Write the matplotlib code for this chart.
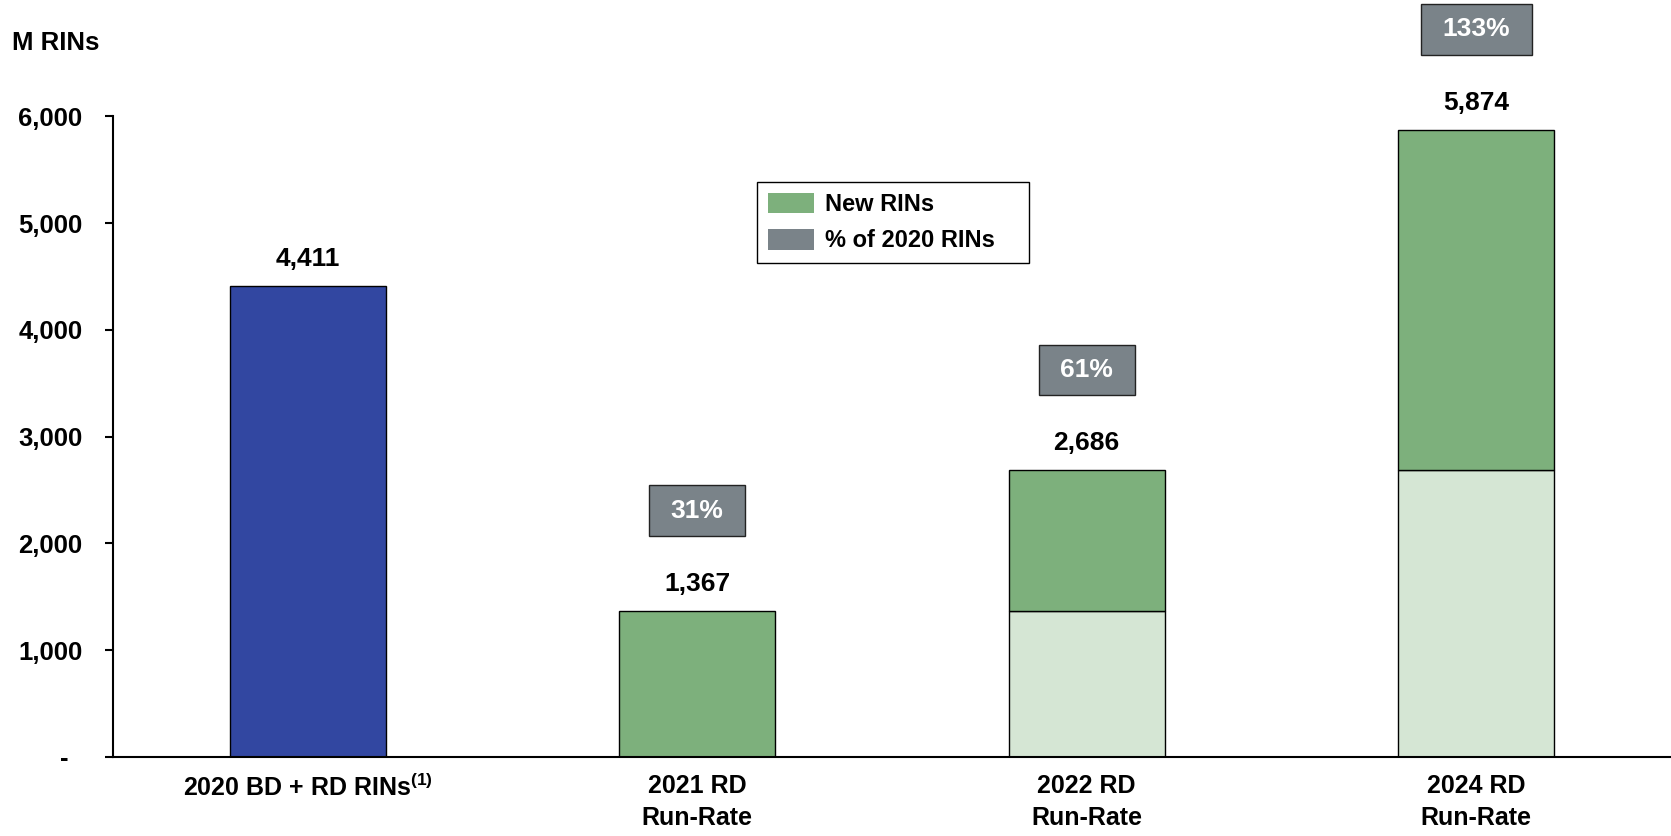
import numpy as np
import matplotlib
matplotlib.use("Agg")
import matplotlib.pyplot as plt
from matplotlib.patches import Patch
from matplotlib.path import Path
from matplotlib.ticker import FuncFormatter

plt.rcParams['font.family'] = ['Liberation Sans', 'DejaVu Sans']
plt.rcParams['font.weight'] = 'bold'
plt.rcParams['mathtext.fontset'] = 'custom'
plt.rcParams['mathtext.rm'] = 'Liberation Sans:bold'
plt.rcParams['mathtext.bf'] = 'Liberation Sans:bold'
plt.rcParams['mathtext.default'] = 'bf'

# M RINs
categories = ['2020 BD + RD RINs$^{(1)}$', '2021 RD\nRun-Rate',
              '2022 RD\nRun-Rate', '2024 RD\nRun-Rate']
rins_2020 = 4411
prior_rins = [0, 1367, 2686]     # run-rate already reached in the previous step
new_rins = [1367, 1319, 3188]    # added in this step
y_ticks = [0, 1000, 2000, 3000, 4000, 5000, 6000]

BLUE = '#3247a1'
GREEN = '#7db07c'
LIGHT = '#d5e6d4'
GREY = '#7a8389'

fig = plt.figure(figsize=(16.71, 8.36), dpi=100)
ax = fig.add_axes([0.0676, 0.0945, 0.9324, 0.7664])

x = np.arange(len(categories))
width = 0.4
totals = [p + n for p, n in zip(prior_rins, new_rins)]

ax.bar(x[0], rins_2020, width, color=BLUE, edgecolor='black', lw=1)
ax.bar(x[1:], prior_rins, width, color=LIGHT, edgecolor='black', lw=1)
ax.bar(x[1:], new_rins, width, bottom=prior_rins, color=GREEN,
       edgecolor='black', lw=1)


def pct_box(x0, y0, w, h, mutation_size):
    # wider padding left/right than top/bottom
    px, py = 0.82 * mutation_size, 0.5 * mutation_size
    verts = [(x0 - px, y0 - py), (x0 + w + px, y0 - py),
             (x0 + w + px, y0 + h + py), (x0 - px, y0 + h + py),
             (x0 - px, y0 - py)]
    return Path(verts, closed=True)


ax.text(x[0], rins_2020 + 250, f'{rins_2020:,}', ha='center', va='center',
        fontsize=19, fontweight='bold')
for xi, tot in zip(x[1:], totals):
    ax.text(xi, tot + 250, f'{tot:,}', ha='center', va='center',
            fontsize=19, fontweight='bold')
    ax.text(xi, tot + 940, f'{round(100 * tot / rins_2020)}%', ha='center',
            va='center', fontsize=19, fontweight='bold', color='white',
            clip_on=False,
            bbox=dict(boxstyle=pct_box, fc=GREY, ec='#222222', lw=1))

ax.set_xlim(-0.5, 3.5)
ax.set_ylim(0, 6000)
ax.set_xticks(x)
ax.set_xticklabels(categories, fontsize=18, fontweight='bold',
                   linespacing=1.45)
ax.set_yticks(y_ticks)
ax.yaxis.set_major_formatter(
    FuncFormatter(lambda v, pos: '-  ' if v == 0 else f'{v:,.0f}'))
ax.tick_params(axis='x', length=0, pad=12)
ax.tick_params(axis='y', length=6, width=1.5, pad=16, labelsize=18.5)
for lbl in ax.get_yticklabels():
    lbl.set_fontweight('bold')

for side in ('top', 'right'):
    ax.spines[side].set_visible(False)
for side in ('left', 'bottom'):
    ax.spines[side].set_linewidth(1.5)

fig.text(12 / 1671, 1 - 50 / 836, 'M RINs', fontsize=18.5, fontweight='bold',
         va='baseline', ha='left')

handles = [Patch(facecolor=GREEN, edgecolor='none', label='New RINs'),
           Patch(facecolor=GREY, edgecolor='none', label='% of 2020 RINs')]
leg = ax.legend(handles=handles, loc='upper left', mode='expand',
                bbox_to_anchor=(757 / 1671, 1 - 263 / 836,
                                272 / 1671, 81 / 836),
                bbox_transform=fig.transFigure, borderaxespad=0,
                prop={'weight': 'bold', 'size': 17},
                fancybox=False, edgecolor='black', framealpha=1,
                handlelength=1.95, handleheight=0.97, handletextpad=0.5,
                labelspacing=0.55, borderpad=0.45)
leg.get_frame().set_linewidth(1)

fig.savefig('out.png', dpi=100)
